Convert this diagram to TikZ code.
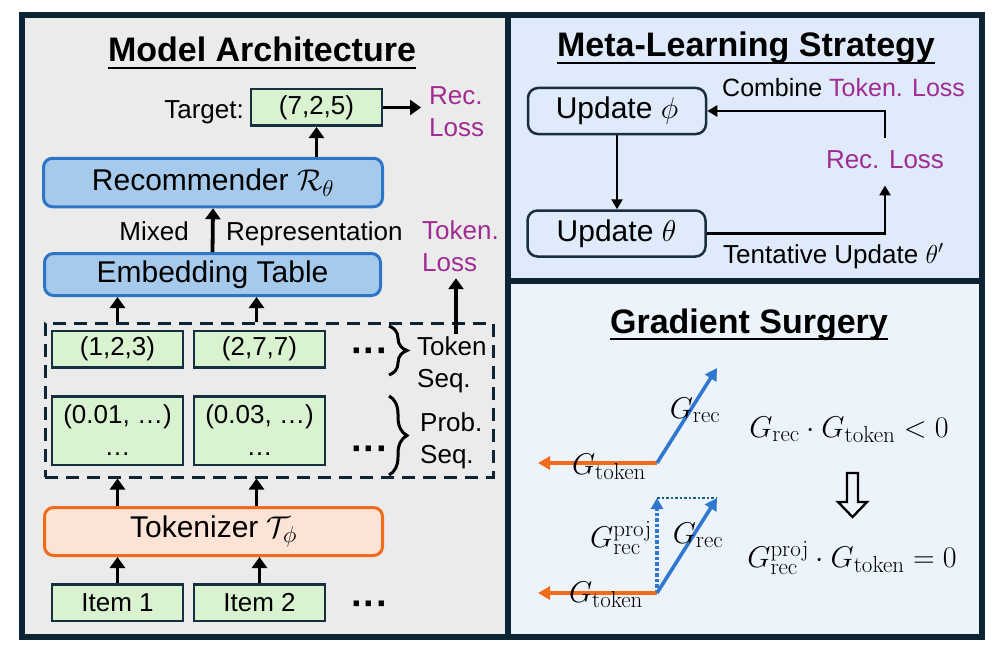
\RequirePackage{fix-cm}
\documentclass[tikz,border=0pt]{standalone}
\usepackage[no-math]{fontspec}
\setmainfont{Liberation Sans}
\usetikzlibrary{arrows.meta,decorations.pathreplacing,calc}
\DeclareMathSizes{30}{30}{23}{17}
\definecolor{framec}{HTML}{0D2434}
\definecolor{leftbg}{HTML}{EBEBEB}
\definecolor{metabg}{HTML}{DFEAFA}
\definecolor{gradbg}{HTML}{EDF3FB}
\definecolor{greenf}{HTML}{D9F2D0}
\definecolor{gedge}{HTML}{163040}
\definecolor{bluef}{HTML}{A6CAEC}
\definecolor{bedge}{HTML}{2F75C6}
\definecolor{orangef}{HTML}{FBE3D6}
\definecolor{oedge}{HTML}{F26A1B}
\definecolor{medge}{HTML}{1A2E3E}
\definecolor{purp}{HTML}{A02B93}
\definecolor{gblue}{HTML}{2F78CE}
\definecolor{dteal}{HTML}{1F5F85}
\newcommand{\fsL}{\fontsize{26}{32}\selectfont}
\newcommand{\fsC}{\fontsize{25}{30}\selectfont}
\newcommand{\fsB}{\fontsize{30}{36}\selectfont}
\newcommand{\fsT}{\fontsize{34}{40}\selectfont}
\newcommand{\fsM}{\fontsize{30}{34}\selectfont}
\newcommand{\fsD}{\fontsize{38}{40}\selectfont\bfseries}
\begin{document}
\begin{tikzpicture}[x=1pt,y=-1pt,
 frame/.style={draw=framec, line width=6pt},
 ttl/.style={font=\fsT\bfseries, inner sep=0pt, anchor=base},
 uline/.style={line width=1.8pt},
 gbox/.style={draw=gedge, line width=2.5pt, fill=greenf, minimum width=131pt, minimum height=36.5pt, inner sep=0pt, font=\fsL},
 bbox/.style={draw=bedge, line width=3pt, fill=bluef, rounded corners=9pt, inner sep=0pt, font=\fsB},
 obox/.style={draw=oedge, line width=3pt, fill=orangef, rounded corners=9pt, inner sep=0pt, font=\fsB},
 mbox/.style={draw=medge, line width=2.5pt, fill=metabg, rounded corners=10pt, minimum width=178pt, minimum height=46pt, inner sep=0pt, font=\fsB},
 lbl/.style={font=\fsL, inner sep=0pt},
 arr/.style={-{Triangle[length=11pt,width=15pt]}, line width=3.8pt},
 marr/.style={-{Triangle[length=10pt,width=11pt]}, line width=2.5pt},
 garr/.style={-{Triangle[length=12pt,width=13pt]}, line width=3.6pt},
 dotsn/.style={font=\fsD, inner sep=0pt, anchor=base},
 brc/.style={decorate, decoration={brace, amplitude=18pt, aspect=0.5}, line width=3pt},
 gm/.style={font=\fsM, inner sep=0pt, anchor=base},
]
\useasboundingbox (0,0) rectangle (995,658);
% panels
\fill[leftbg] (22,15) rectangle (508,637);
\fill[metabg] (508,15) rectangle (982,280.5);
\fill[gradbg] (508,280.5) rectangle (982,637);
\draw[frame] (22,15) rectangle (982,637);
\draw[frame] (508,15) -- (508,637);
\draw[frame] (508,280.5) -- (982,280.5);

% ---------- Model Architecture ----------
\node[ttl] (t1) at (262,62) {Model Architecture};
\draw[uline] ([yshift=-6pt]t1.base west) -- ([yshift=-6pt]t1.base east);

\node[gbox] (target) at (316.5,107.5) {(7,2,5)};
\node[lbl, anchor=base east] (tlab) at (244,118) {Target:};
\coordinate (recend) at (421,108);
\draw[arr] (target.east) -- (target.east -| recend);
\node[lbl, text=purp, align=left, anchor=west] (recloss) at (429,111.7) {Rec.\\Loss};

\node[bbox, minimum width=339pt, minimum height=48.5pt] (rec) at (213,182.5) {Recommender $\mathcal{R}_\theta$};
\draw[arr] (target.south |- rec.north) -- (target.south);

\node[bbox, minimum width=336pt, minimum height=42pt] (emb) at (212.5,274.5) {Embedding Table};
\draw[arr] (emb.north) -- (rec.south);
\node[lbl, anchor=base east] (mixed) at (189,240) {Mixed};
\node[lbl, anchor=base west] (repr) at (226,240) {Representation};
\node[lbl, text=purp, align=left, anchor=west] (tokloss) at (422,246.5) {Token.\\Loss};

\node[draw=framec, dash pattern=on 13pt off 8pt, line width=3pt, minimum width=448pt, minimum height=154pt, inner sep=0pt] (dbox) at (269,400) {};

\node[gbox] (tok1) at (117.5,349) {(1,2,3)};
\node[gbox] (tok2) at (259.5,349) {(2,7,7)};
\node[gbox, minimum height=68.5pt, align=center] (prob1) at (117.5,430.5) {(0.01, …)\\…};
\node[gbox, minimum height=68.5pt, align=center] (prob2) at (259.5,430.5) {(0.03, …)\\…};
\node[dotsn] (d1) at (370,363) {···};
\node[dotsn] (d2) at (370,461) {···};
\node[dotsn] (d3) at (370,616) {···};

\coordinate (b1t) at (389,326);
\coordinate (b1b) at (389,375);
\coordinate (b2t) at (389,396);
\coordinate (b2b) at (389,475);
\draw[brc] (b1t) -- (b1b);
\draw[brc] (b2t) -- (b2b);
\node[lbl, align=left, anchor=west] (tseq) at (417,364.7) {Token\\Seq.};
\node[lbl, align=left, anchor=west] (pseq) at (420,441) {Prob.\\Seq.};

\coordinate (tls) at (456,334);
\draw[arr, shorten >=6pt] (tls) -- (tls |- tokloss.south);

\draw[arr] (tok1.north |- dbox.north) -- (tok1.north |- emb.south);
\draw[arr] ([xshift=-3pt]tok2.north |- dbox.north) -- ([xshift=-3pt]tok2.north |- emb.south);

\node[obox, minimum width=338pt, minimum height=48pt] (tokz) at (213.5,531.5) {Tokenizer $\mathcal{T}_\phi$};
\draw[arr] (tok1.north |- tokz.north) -- (tok1.north |- dbox.south);
\draw[arr] ([xshift=-3pt]tok2.north |- tokz.north) -- ([xshift=-3pt]tok2.north |- dbox.south);

\node[gbox] (item1) at (117.5,602.5) {Item 1};
\node[gbox] (item2) at (259.5,602.5) {Item 2};
\draw[arr] (item1.north) -- (item1.north |- tokz.south);
\draw[arr] (item2.north) -- (item2.north |- tokz.south);

% ---------- Meta-Learning Strategy ----------
\node[ttl] (t2) at (746,57) {Meta-Learning Strategy};
\draw[uline] ([yshift=-6pt]t2.base west) -- ([yshift=-6pt]t2.base east);
\node[mbox] (phi) at (617,111) {Update $\phi$};
\node[mbox] (theta) at (616.5,233.5) {Update $\theta$};
\draw[marr] (phi.south) -- (phi.south |- theta.north);
\node[lbl, text=purp, anchor=base] (rl) at (885,168) {Rec. Loss};
\draw[marr, shorten >=17pt] (theta.east) -| (rl.south);
\draw[marr, shorten <=12pt] (rl.north) |- (phi.east);
\node[font=\fsC, inner sep=0pt, anchor=base west] (comb) at (722,97) {Combine \textcolor{purp}{Token. Loss}};
\node[lbl, anchor=base west] (tent) at (723,263) {Tentative Update $\theta'$};

% ---------- Gradient Surgery ----------
\node[ttl] (t3) at (749,333) {Gradient Surgery};
\draw[uline] ([yshift=-6pt]t3.base west) -- ([yshift=-6pt]t3.base east);

\coordinate (o1) at (657,463);
\coordinate (tokend1) at (538,463);
\coordinate (recend1) at (717,368);
\draw[garr, color=oedge] (o1) -- (tokend1);
\draw[garr, color=gblue] (o1) -- (recend1);
\node[gm] (gt1) at (609,474) {$G_{\mathrm{token}}$};
\node[gm] (gr1) at (695,418) {$G_{\mathrm{rec}}$};
\node[gm] (eq1) at (849,437) {$G_{\mathrm{rec}}\cdot G_{\mathrm{token}}<0$};

\draw[line width=2.3pt, line join=miter] (847,473) -- (858,473) -- (858,502) -- (867,502) -- (852.5,517) -- (838,502) -- (847,502) -- cycle;

\coordinate (o2) at (657,593);
\coordinate (tokend2) at (538,593);
\coordinate (recend2) at (717,498);
\coordinate (projend) at (657,498);
\draw[dotted, line width=3.5pt, color=gblue, -{Triangle[length=11pt,width=12pt]}] (o2) -- (projend);
\draw[dotted, line width=2.5pt, color=dteal] (projend) -- (recend2);
\draw[garr, color=oedge] (o2) -- (tokend2);
\draw[garr, color=gblue] (o2) -- (recend2);
\node[gm] (gp) at (621,547) {$G_{\mathrm{rec}}^{\mathrm{proj}}$};
\node[gm] (gr2) at (698,543) {$G_{\mathrm{rec}}$};
\node[gm] (gt2) at (606,602) {$G_{\mathrm{token}}$};
\node[gm] (eq2) at (852,567) {$G_{\mathrm{rec}}^{\mathrm{proj}}\cdot G_{\mathrm{token}}=0$};
\end{tikzpicture}
\end{document}
